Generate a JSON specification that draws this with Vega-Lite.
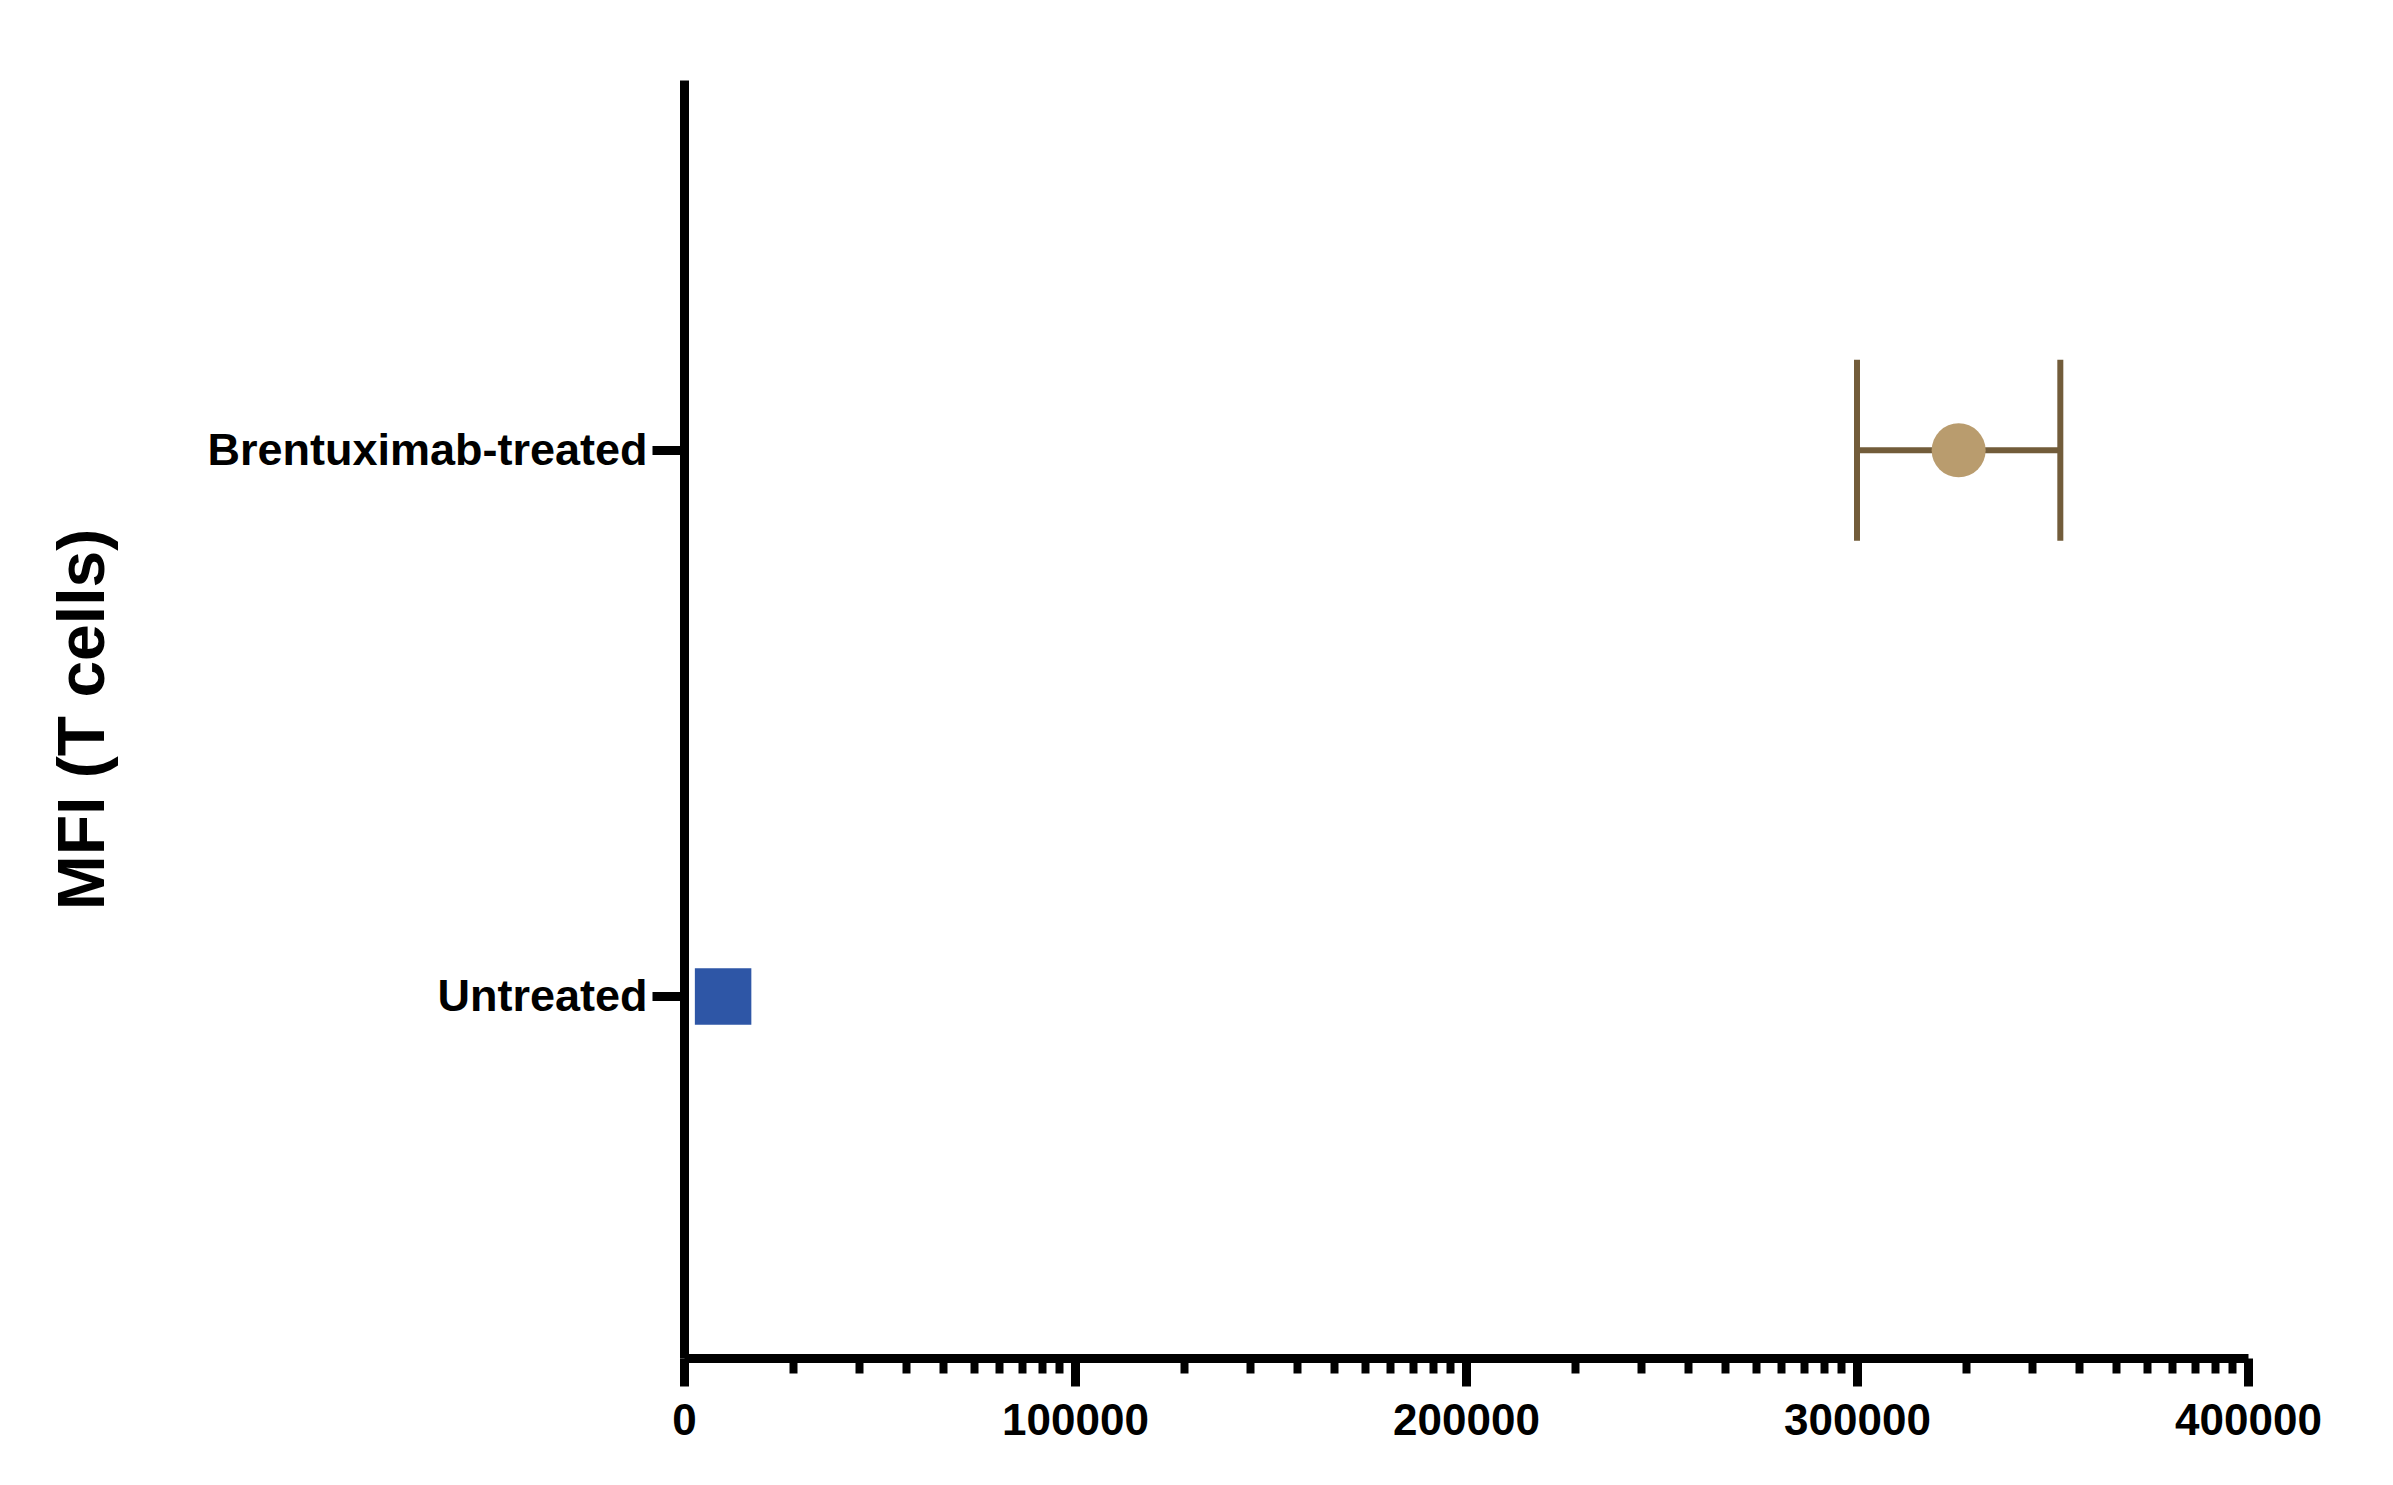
{
  "$schema": "https://vega.github.io/schema/vega-lite/v6.json",
  "width": 1564,
  "height": 1278,
  "autosize": {"type": "none"},
  "padding": {"left": 684, "top": 80, "right": 145, "bottom": 127},
  "background": "white",
  "data": {
    "values": [
      {"group": "Brentuximab-treated", "mfi": 326000, "low": 300000, "high": 352000},
      {"group": "Untreated", "mfi": 10000, "low": null, "high": null}
    ]
  },
  "encoding": {
    "y": {
      "field": "group",
      "type": "nominal",
      "sort": ["Brentuximab-treated", "Untreated"],
      "scale": {"type": "point", "padding": 0.67, "align": 0.506},
      "axis": {
        "title": "MFI (T cells)",
        "titleFontSize": 66,
        "titleFont": "Liberation Sans",
        "titleFontWeight": "bold",
        "titleColor": "black",
        "titleAngle": 270,
        "titleAlign": "center",
        "titleBaseline": "alphabetic",
        "titleX": -581,
        "titleY": 639,
        "domainColor": "black",
        "domainWidth": 9,
        "tickColor": "black",
        "tickWidth": 9,
        "tickSize": 32,
        "labelFont": "Liberation Sans",
        "labelFontSize": 45,
        "labelFontWeight": "bold",
        "labelColor": "black",
        "labelPadding": 5,
        "labelLimit": 0,
        "grid": false
      }
    }
  },
  "layer": [
    {
      "transform": [{"filter": "datum.low != null"}],
      "mark": {"type": "rule", "color": "#725C3A", "strokeWidth": 6},
      "encoding": {
        "x": {
          "field": "low",
          "type": "quantitative",
          "scale": {"domain": [0, 400000], "nice": false},
          "axis": {
            "orient": "bottom",
            "title": null,
            "values": [27900, 44700, 56700, 66200, 74100, 80600, 86400, 91600, 95900,
                       127900, 144700, 156700, 166200, 174100, 180600, 186400, 191600, 195900,
                       227900, 244700, 256700, 266200, 274100, 280600, 286400, 291600, 295900,
                       327900, 344700, 356700, 366200, 374100, 380600, 386400, 391600, 395900],
            "labels": false,
            "domain": false,
            "grid": false,
            "tickColor": "black",
            "tickWidth": 8,
            "tickSize": 15
          }
        },
        "x2": {"field": "high"}
      }
    },
    {
      "transform": [{"filter": "datum.low != null"}],
      "mark": {"type": "tick", "color": "#725C3A", "opacity": 1, "size": 181, "thickness": 6},
      "encoding": {
        "x": {"field": "low", "type": "quantitative", "axis": null}
      }
    },
    {
      "transform": [{"filter": "datum.high != null"}],
      "mark": {"type": "tick", "color": "#725C3A", "opacity": 1, "size": 181, "thickness": 6},
      "encoding": {
        "x": {"field": "high", "type": "quantitative", "axis": null}
      }
    },
    {
      "mark": {"type": "point", "filled": true, "opacity": 1},
      "encoding": {
        "x": {
          "field": "mfi",
          "type": "quantitative",
          "axis": {
            "orient": "bottom",
            "title": null,
            "values": [0, 100000, 200000, 300000, 400000],
            "format": "d",
            "labelFlush": false,
            "grid": false,
            "domainColor": "black",
            "domainWidth": 9,
            "tickColor": "black",
            "tickWidth": 9,
            "tickSize": 28,
            "labelFont": "Liberation Sans",
            "labelFontSize": 44,
            "labelFontWeight": "bold",
            "labelColor": "black",
            "labelPadding": 13
          }
        },
        "shape": {
          "field": "group",
          "type": "nominal",
          "scale": {"domain": ["Brentuximab-treated", "Untreated"], "range": ["circle", "square"]},
          "legend": null
        },
        "color": {
          "field": "group",
          "type": "nominal",
          "scale": {"domain": ["Brentuximab-treated", "Untreated"], "range": ["#B99C6E", "#2E56A6"]},
          "legend": null
        },
        "size": {
          "field": "group",
          "type": "nominal",
          "scale": {"domain": ["Brentuximab-treated", "Untreated"], "range": [2916, 3190]},
          "legend": null
        }
      }
    }
  ],
  "resolve": {"axis": {"x": "independent"}},
  "config": {
    "view": {"stroke": null},
    "font": "Liberation Sans"
  }
}
